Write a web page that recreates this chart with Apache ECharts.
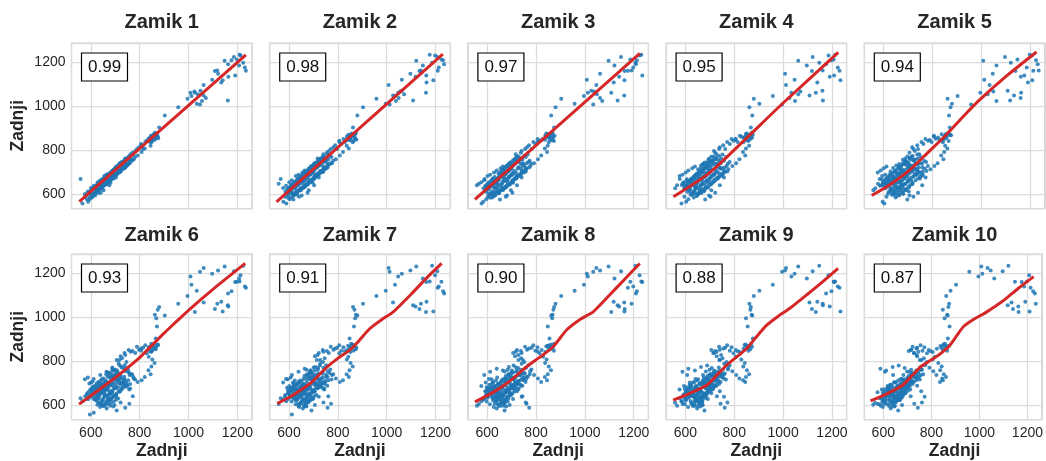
<!DOCTYPE html>
<html lang="sl">
<head>
<meta charset="UTF-8">
<title>Zamik - lag plots</title>
<style>
  html, body { margin: 0; padding: 0; background: #fff; }
  #chart { width: 1046px; height: 461px; }
</style>
</head>
<body>
<div id="chart"></div>
<script src="https://cdn.jsdelivr.net/npm/echarts@6/dist/echarts.min.js"></script>
<script>
// the series (one value per step)
var vrednosti = [
  612, 596, 603, 584, 577, 589, 566, 558, 669, 648,
  641, 627, 618, 632, 606, 597, 611, 602, 624, 631,
  648, 639, 657, 665, 649, 634, 621, 608, 596, 585,
  598, 611, 627, 642, 638, 655, 646, 629, 617, 604,
  592, 606, 621, 637, 652, 668, 661, 679, 664, 648,
  633, 619, 605, 598, 612, 624, 641, 636, 657, 671,
  664, 682, 673, 657, 642, 629, 618, 609, 626, 640,
  655, 648, 669, 684, 678, 693, 671, 659, 644, 631,
  622, 617, 633, 648, 664, 657, 676, 689, 703, 691,
  677, 662, 648, 636, 624, 641, 655, 672, 666, 687,
  699, 712, 704, 688, 671, 657, 643, 631, 646, 662,
  678, 671, 692, 706, 697, 681, 652, 618, 594, 576,
  601, 628, 655, 683, 699, 718, 703, 687, 672, 659,
  646, 661, 677, 694, 688, 705, 719, 712, 697, 683,
  668, 652, 664, 681, 698, 714, 731, 722, 706, 690,
  676, 663, 679, 695, 711, 704, 726, 741, 733, 717,
  701, 686, 672, 688, 703, 719, 736, 728, 748, 739,
  721, 706, 692, 679, 694, 711, 727, 744, 757, 749,
  731, 716, 699, 684, 672, 689, 706, 722, 738, 729,
  746, 761, 753, 737, 718, 701, 688, 697, 714, 729,
  744, 761, 772, 758, 741, 722, 703, 676, 641, 607,
  588, 612, 639, 664, 689, 708, 726, 719, 738, 752,
  766, 758, 774, 781, 769, 752, 739, 746, 728, 717,
  741, 763, 782, 797, 814, 806, 829, 843, 837, 852,
  861, 848, 836, 845, 821, 808, 792, 776, 759, 741,
  728, 714, 706, 722, 738, 755, 771, 789, 806, 823,
  838, 851, 847, 866, 858, 873, 864, 851, 842, 857,
  869, 876, 855, 848, 866, 871, 868, 874, 862, 880,
  903, 958, 996, 1034, 1012, 1047, 1008, 1062, 1097, 1121,
  1148, 1207, 1186, 1224, 1198, 1213, 1231, 1176, 1209, 1235,
  1162, 1191, 1140, 1118, 1163, 1134, 1108, 1161, 1026, 1062,
  1049, 1071, 1038, 1055, 1024, 1067
];

var zamiki = [1, 2, 3, 4, 5, 6, 7, 8, 9, 10];
var naslovi = ['Zamik 1', 'Zamik 2', 'Zamik 3', 'Zamik 4', 'Zamik 5',
               'Zamik 6', 'Zamik 7', 'Zamik 8', 'Zamik 9', 'Zamik 10'];
var korelacije = ['0.99', '0.98', '0.97', '0.95', '0.94', '0.93', '0.91', '0.90', '0.88', '0.87'];

// red smoothed (lowess) curve of every panel, [lagged value, value]
var gladko = [
  [[553, 566], [1235, 1234]],
  [[549, 565], [1230, 1237]],
  [[550, 576], [1225, 1241]],
  [[551, 588], [700, 698], [850, 855], [1000, 1015], [1226, 1245]],
  [[551, 594], [630, 647], [708, 711], [780, 788], [858, 872], [930, 958], [994, 1030], [1100, 1135], [1226, 1247]],
  [[552, 605], [600, 643], [650, 684], [700, 725], [750, 770], [800, 817], [850, 872], [900, 928],
   [950, 980], [1000, 1032], [1100, 1127], [1232, 1245]],
  [[552, 608], [600, 635], [650, 670], [700, 712], [750, 768], [800, 813], [850, 852], [880, 885],
   [931, 949], [980, 990], [1027, 1025], [1100, 1105], [1160, 1175], [1225, 1245]],
  [[550, 615], [620, 656], [679, 699], [720, 735], [761, 775], [820, 822], [870, 866], [925, 942],
   [980, 990], [1034, 1025], [1100, 1100], [1160, 1170], [1225, 1245]],
  [[550, 623], [620, 655], [687, 691], [730, 738], [769, 782], [810, 820], [851, 858], [890, 910],
   [933, 964], [980, 1005], [1028, 1041], [1100, 1105], [1160, 1160], [1225, 1223]],
  [[547, 620], [615, 652], [680, 691], [720, 735], [756, 775], [795, 803], [830, 828], [872, 866],
   [905, 915], [933, 957], [975, 990], [1021, 1018], [1060, 1046], [1103, 1078], [1160, 1130], [1226, 1185]]
];

var osX = 'Zadnji';
var osY = 'Zadnji';

var font = '"Liberation Sans", Arial, sans-serif';
var gridLeft = [71.5, 269.7, 467.9, 666.1, 864.3];
var gridTop = [43, 254];
var gridW = 180.5, gridH = 165.5;

var grids = [], xAxes = [], yAxes = [], series = [], titles = [], graphics = [];

function brezVejic(v) {
  return String(v);
}

zamiki.forEach(function (lag, i) {
  var col = i % 5, row = Math.floor(i / 5);
  grids.push({
    left: gridLeft[col], top: gridTop[row], width: gridW, height: gridH,
    show: true, borderColor: '#cccccc', borderWidth: 1.25, backgroundColor: '#ffffff'
  });
  xAxes.push({
    type: 'value', gridIndex: i, min: 521, max: 1260, splitNumber: 4,
    axisLine: { show: false }, axisTick: { show: false },
    splitLine: { lineStyle: { color: '#dcdcdc', width: 1.25 } },
    axisLabel: {
      show: row === 1, showMinLabel: false, showMaxLabel: false, formatter: brezVejic,
      fontSize: 14, color: '#262626', margin: 7, fontFamily: font
    }
  });
  yAxes.push({
    type: 'value', gridIndex: i, min: 535, max: 1288, splitNumber: 4,
    axisLine: { show: false }, axisTick: { show: false },
    splitLine: { lineStyle: { color: '#dcdcdc', width: 1.25 } },
    axisLabel: {
      show: col === 0, showMinLabel: false, showMaxLabel: false, formatter: brezVejic,
      fontSize: 14, color: '#262626', margin: 6, fontFamily: font
    }
  });

  var tocke = [];
  for (var t = lag; t < vrednosti.length; t++) {
    tocke.push([vrednosti[t - lag], vrednosti[t]]);
  }
  series.push({
    type: 'scatter', xAxisIndex: i, yAxisIndex: i, data: tocke,
    symbolSize: 4, silent: true, z: 2,
    itemStyle: { color: '#1f77b4', opacity: 0.85 }
  });
  series.push({
    type: 'line', xAxisIndex: i, yAxisIndex: i, data: gladko[i],
    smooth: 0.2, showSymbol: false, silent: true, z: 3,
    lineStyle: { color: '#d62728', width: 3 }
  });

  titles.push({
    text: korelacije[i],
    left: gridLeft[col] + 9.5, top: gridTop[row] + 9.5,
    padding: [6, 7], borderColor: '#000', borderWidth: 1.2, backgroundColor: '#fff',
    textStyle: { fontSize: 17, fontWeight: 'normal', color: '#111', fontFamily: font }
  });

  graphics.push({
    type: 'text', x: gridLeft[col] + gridW / 2, y: row === 0 ? 22 : 235,
    style: {
      text: naslovi[i], fontSize: 20, fontWeight: 'bold', fontFamily: font, fill: '#262626',
      align: 'center', verticalAlign: 'middle', textAlign: 'center', textVerticalAlign: 'middle'
    }
  });
  if (row === 1) {
    graphics.push({
      type: 'text', x: gridLeft[col] + gridW / 2, y: 451,
      style: {
        text: osX, fontSize: 17.5, fontWeight: 'bold', fontFamily: font, fill: '#262626',
        align: 'center', verticalAlign: 'middle', textAlign: 'center', textVerticalAlign: 'middle'
      }
    });
  }
  if (col === 0) {
    graphics.push({
      type: 'text', x: 18, y: gridTop[row] + gridH / 2, rotation: Math.PI / 2,
      style: {
        text: osY, fontSize: 17.5, fontWeight: 'bold', fontFamily: font, fill: '#262626',
        align: 'center', verticalAlign: 'middle', textAlign: 'center', textVerticalAlign: 'middle'
      }
    });
  }
});

var myChart = echarts.init(document.getElementById('chart'), null, { renderer: 'canvas' });
myChart.setOption({
  animation: false,
  backgroundColor: '#ffffff',
  title: titles,
  grid: grids,
  xAxis: xAxes,
  yAxis: yAxes,
  series: series,
  graphic: graphics
});
</script>
</body>
</html>
